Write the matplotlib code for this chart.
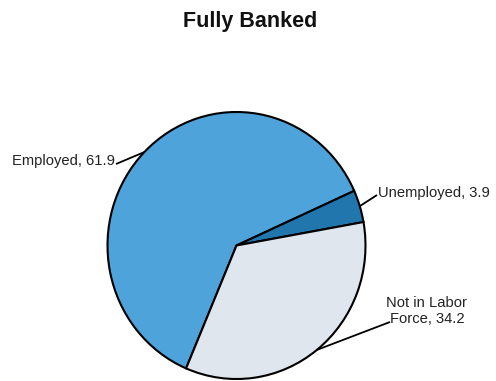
import matplotlib
matplotlib.use("Agg")
import matplotlib.pyplot as plt
import numpy as np

plt.rcParams['font.family'] = ['Liberation Sans', 'DejaVu Sans']

title = "Fully Banked"
categories = ["Employed", "Unemployed", "Not in Labor\nForce"]
values = [61.9, 3.9, 34.2]
colors = ["#4FA3DB", "#2176AD", "#E0E6EE"]

W, H = 496, 381
fig = plt.figure(figsize=(W / 100, H / 100), dpi=100)

cx, cy = 236.5, 245.5   # pixel centre (from top-left)
rx, ry = 129, 133.5
ax = fig.add_axes([(cx - rx) / W, (H - (cy + ry)) / H, 2 * rx / W, 2 * ry / H])

wedges, _ = ax.pie(values, colors=colors, startangle=247, counterclock=False,
                   wedgeprops=dict(edgecolor="black", linewidth=1.5, joinstyle="miter"))
ax.set_aspect('auto')
ax.set_xlim(-1, 1)
ax.set_ylim(-1, 1)
ax.axis('off')

def px2data(px, py):
    return ((px - cx) / rx, (cy - py) / ry)

# label positions (pixels) and alignment
label_cfg = [
    dict(end=(116, 164), text=(115, 165), ha='right'),
    dict(end=(377, 195), text=(378, 197), ha='left'),
    dict(end=(390, 322), text=(427, 323), ha='center'),
]

for w, cat, val, cfg in zip(wedges, categories, values, label_cfg):
    ang = np.deg2rad((w.theta1 + w.theta2) / 2)
    x0, y0 = np.cos(ang), np.sin(ang)
    x1, y1 = px2data(*cfg['end'])
    ax.plot([x0, x1], [y0, y1], color="black", lw=1.3, clip_on=False,
            solid_capstyle='butt')
    tx, ty = px2data(*cfg['text'])
    ax.text(tx, ty, f"{cat}, {val}", ha=cfg['ha'], va='baseline',
            multialignment='center', fontsize=10.6, color="#222222",
            clip_on=False)

fig.text(250 / W, 1 - 27 / H, title, ha='center', va='baseline',
         fontsize=15.5, fontweight='bold', color="#111111")

fig.savefig("out.png", dpi=100)
